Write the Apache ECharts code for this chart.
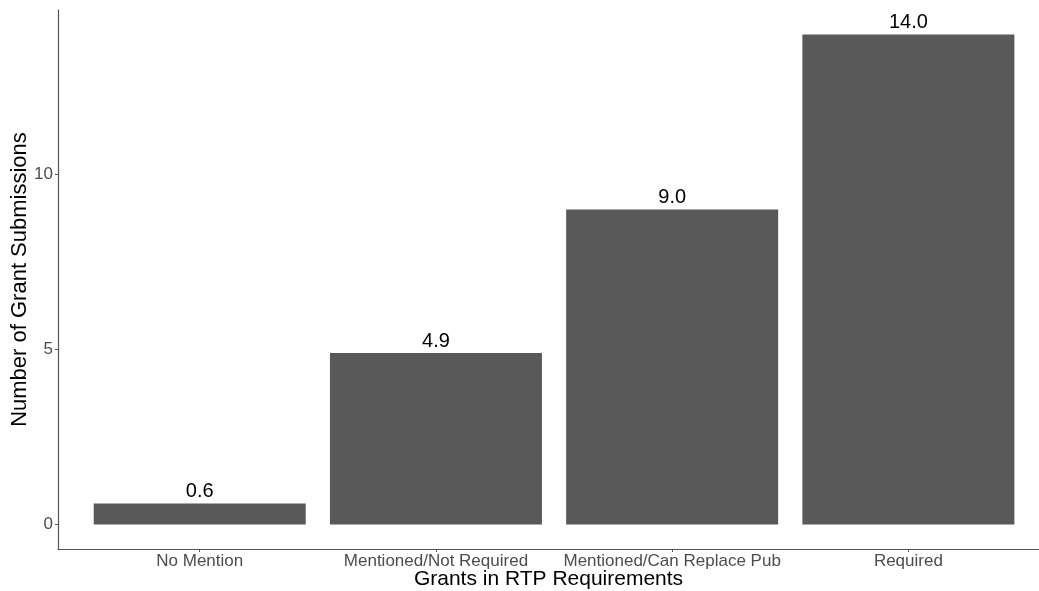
<!DOCTYPE html>
<html>
<head>
<meta charset="utf-8">
<script src="https://cdn.jsdelivr.net/npm/echarts@6/dist/echarts.min.js"></script>
<style>
  html, body { margin: 0; padding: 0; background: #fff; }
  #chart { width: 1039px; height: 591px; }
</style>
</head>
<body>
<div id="chart"></div>
<script>
// Average number of grant submissions by how grants appear in RTP requirements
const categories = ['No Mention', 'Mentioned/Not Required', 'Mentioned/Can Replace Pub', 'Required'];
const submissions = [0.6, 4.9, 9.0, 14.0];
const yTicks = [0, 5, 10];

const positions = categories.map((_, i) => i + 1);
const barData = submissions.map((v, i) => [positions[i], v]);

const chart = echarts.init(document.getElementById('chart'), null, { renderer: 'canvas' });
const FONT = 'Liberation Sans, Arial, sans-serif';

chart.setOption({
  animation: false,
  backgroundColor: '#ffffff',
  grid: { left: 58, right: 0, top: 10, bottom: 42, outerBoundsMode: 'none', containLabel: false },
  xAxis: {
    type: 'value',
    min: 0.4,
    max: 4.553,
    name: 'Grants in RTP Requirements',
    nameLocation: 'middle',
    nameGap: 20,
    nameMoveOverlap: false,
    nameTextStyle: { fontFamily: FONT, fontSize: 21, color: '#000' },
    splitLine: { show: false },
    axisLine: { show: true, onZero: false, lineStyle: { color: '#555', width: 1.2 } },
    axisTick: { show: true, customValues: positions, length: 3, lineStyle: { color: '#555' } },
    axisLabel: {
      customValues: positions,
      formatter: v => categories[Math.round(v) - 1] || '',
      fontFamily: FONT, fontSize: 17, color: '#4d4d4d', margin: 4
    }
  },
  yAxis: {
    type: 'value',
    min: -0.7,
    max: 14.7,
    name: 'Number of Grant Submissions',
    nameLocation: 'middle',
    nameGap: 27,
    nameMoveOverlap: false,
    nameTextStyle: { fontFamily: FONT, fontSize: 22, color: '#000' },
    splitLine: { show: false },
    axisLine: { show: true, onZero: false, lineStyle: { color: '#555', width: 1.2 } },
    axisTick: { show: true, customValues: yTicks, length: 3, lineStyle: { color: '#555' } },
    axisLabel: {
      customValues: yTicks,
      fontFamily: FONT, fontSize: 17, color: '#4d4d4d', margin: 5
    }
  },
  series: [{
    type: 'bar',
    data: barData,
    barWidth: 212,
    itemStyle: { color: '#595959' },
    label: {
      show: true,
      position: 'top',
      distance: 2,
      formatter: p => p.value[1].toFixed(1),
      fontFamily: FONT, fontSize: 20, color: '#000'
    }
  }]
});
</script>
</body>
</html>
